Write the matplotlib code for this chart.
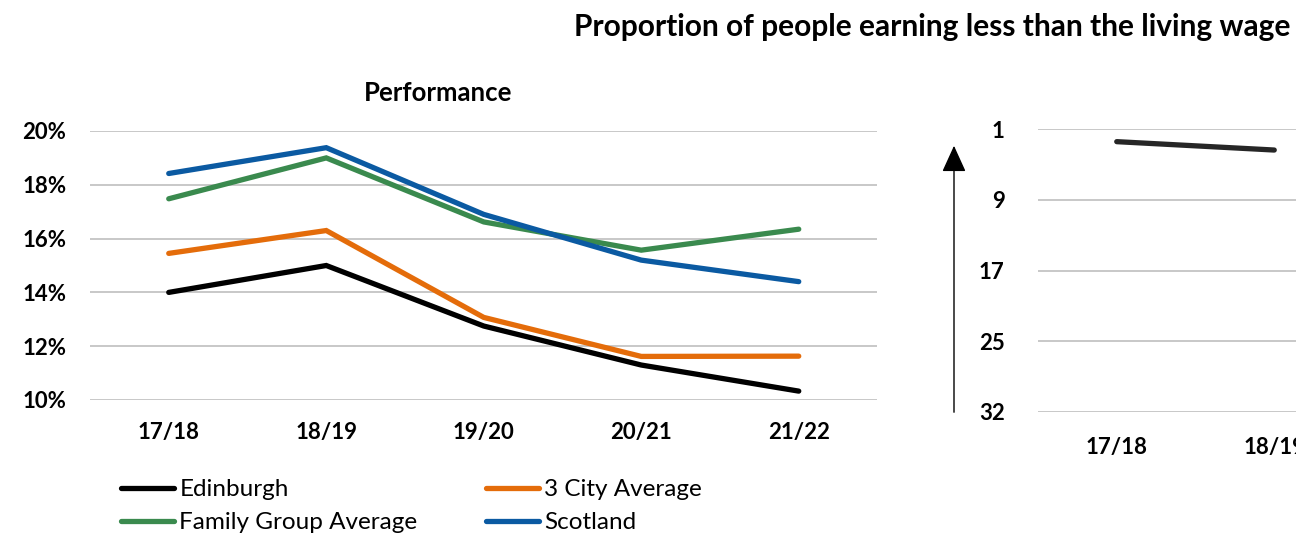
import numpy as np
import matplotlib as mpl
mpl.use("Agg")
import matplotlib.pyplot as plt

# data
years = ["17/18", "18/19", "19/20", "20/21", "21/22"]
edinburgh = [14.0, 15.0, 12.75, 11.3, 10.33]
three_city = [15.45, 16.3, 13.07, 11.62, 11.63]
family_group = [17.48, 19.0, 16.62, 15.57, 16.35]
scotland = [18.42, 19.38, 16.9, 15.2, 14.4]

rank_years = ["17/18", "18/19"]
edinburgh_rank = [2.4, 3.35]
rank_ticks = [1, 9, 17, 25, 33]
rank_labels = ["1", "9", "17", "25", "32"]

pct_ticks = [10, 12, 14, 16, 18, 20]

plt.rcParams['font.family'] = ['Lato', 'DejaVu Sans']

W, H = 1296, 543
fig = plt.figure(figsize=(W / 100, H / 100), dpi=100)

def px(x0, y0, x1, y1):
    # pixel box -> figure fraction [left, bottom, width, height]
    return [x0 / W, 1 - y1 / H, (x1 - x0) / W, (y1 - y0) / H]

grid_col = "#C4C4C4"
tick_fs = 16

# left panel
ax = fig.add_axes(px(90, 131, 877.5, 400))
x = np.arange(len(years))
series = [
    (edinburgh, "#000000", "Edinburgh"),
    (three_city, "#E46C0A", "3 City Average"),
    (family_group, "#3A8A4E", "Family Group Average"),
    (scotland, "#0B5AA2", "Scotland"),
]
lines = {}
for vals, col, name in series:
    ln, = ax.plot(x, vals, color=col, lw=3.8, solid_capstyle='round',
                  solid_joinstyle='miter', clip_on=False, label=name)
    lines[name] = ln
ax.set_xlim(-0.5, len(years) - 0.5)
ax.set_ylim(10, 20)
ax.set_yticks(pct_ticks)
ax.set_yticklabels(["%d%%" % t for t in pct_ticks])
ax.set_xticks(x)
ax.set_xticklabels(years)
ax.grid(axis='y', color=grid_col, lw=1.3)
ax.set_axisbelow(True)
for s in ax.spines.values():
    s.set_visible(False)
ax.tick_params(axis='y', length=0, pad=17, labelsize=tick_fs)
ax.tick_params(axis='x', length=0, pad=16, labelsize=tick_fs)
for lab in ax.get_xticklabels() + ax.get_yticklabels():
    lab.set_fontweight('bold')

fig.text(438 / W, 1 - 93 / H, "Performance", ha='center', va='center',
         fontsize=18.5, fontweight='bold')

# right panel (cut off by the figure edge)
ax2 = fig.add_axes(px(1038, 129.3, 1038 + 787.5, 411.7))
x2 = np.arange(len(rank_years))
ax2.plot(x2, edinburgh_rank, color="#262626", lw=3.8, solid_capstyle='round',
         clip_on=False)
ax2.set_xlim(-0.5, len(years) - 0.5)
ax2.set_ylim(33, 1)
ax2.set_yticks(rank_ticks)
ax2.set_yticklabels(rank_labels)
ax2.set_xticks(np.arange(len(years)))
ax2.set_xticklabels(years)
ax2.grid(axis='y', color=grid_col, lw=1.3)
ax2.set_axisbelow(True)
for s in ax2.spines.values():
    s.set_visible(False)
ax2.tick_params(axis='y', length=0, pad=24, labelsize=tick_fs)
ax2.tick_params(axis='x', length=0, pad=18, labelsize=tick_fs)
for lab in ax2.get_xticklabels() + ax2.get_yticklabels():
    lab.set_fontweight('bold')

# "higher is better" arrow
fig.add_artist(mpl.patches.FancyArrowPatch(
    (954 / W, 1 - 415 / H), (954 / W, 1 - 143 / H),
    transform=fig.transFigure, arrowstyle='-|>,head_length=1.1,head_width=0.5',
    mutation_scale=15, color='black', lw=1))

fig.text(1290 / W, 1 - 27 / H,
         "Proportion of people earning less than the living wage",
         ha='right', va='center', fontsize=21.5, fontweight='bold')

order = ["Edinburgh", "Family Group Average", "3 City Average", "Scotland"]
fig.legend([lines[n] for n in order], order, ncol=2, frameon=False,
           loc='upper left', bbox_to_anchor=(121 / W, 1 - 479 / H),
           fontsize=17.5, handlelength=2.2, handletextpad=0.2,
           columnspacing=2.8, labelspacing=0.5, borderpad=0,
           borderaxespad=0)

fig.savefig("out.png", dpi=100)
